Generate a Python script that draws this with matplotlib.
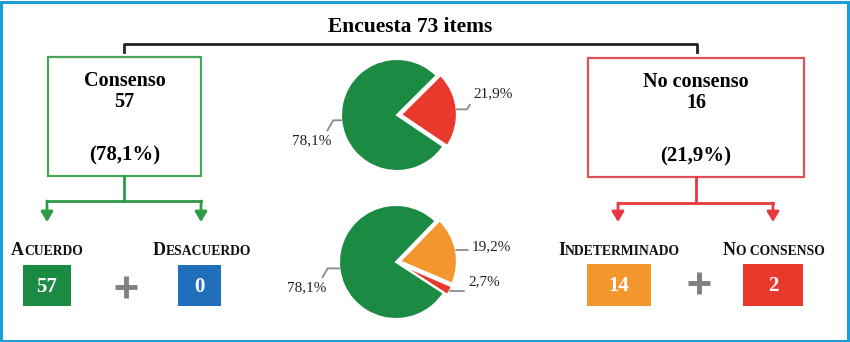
import numpy as np
import matplotlib
matplotlib.use("Agg")
import matplotlib.pyplot as plt
from matplotlib.patches import Rectangle
from matplotlib.font_manager import FontProperties

# datos de la encuesta
total_items = 73
grupos = ["Consenso", "No consenso"]
grupos_n = [57, 16]
grupos_pct = ["78,1%", "21,9%"]

sub_labels = ["Acuerdo", "Desacuerdo", "Indeterminado", "No consenso"]
sub_n = [57, 0, 14, 2]

pie1_vals = [21.9, 78.1]
pie1_labels = ["21,9%", "78,1%"]
pie2_vals = [2.7, 19.2, 78.1]
pie2_labels = ["2,7%", "19,2%", "78,1%"]

VERDE = "#1b8a42"
ROJO = "#e8392c"
NARANJA = "#f3962e"
AZUL = "#1f6fba"
SERIF = "Liberation Serif"

W, H = 850, 342
fig = plt.figure(figsize=(W / 100, H / 100), dpi=100)
ax = fig.add_axes([0, 0, 1, 1])
ax.set_xlim(0, W)
ax.set_ylim(H, 0)
ax.axis("off")
renderer = fig.canvas.get_renderer()

# marco azul
ax.add_patch(Rectangle((1.5, 1.5), W - 3, H - 3, fill=False, ec="#1b9ed8", lw=2.2))

# titulo y llave
ax.text(410, 27, f"Encuesta {total_items} items", ha="center", va="center",
        family=SERIF, weight="bold", fontsize=15.5)
ax.plot([124, 124, 697, 697], [52, 44, 44, 52], color="#222222", lw=2)

# cajas principales
cajas = [(48, 57, 153, 119, "#4aa55a"), (588, 58, 216, 119, "#e25056")]
for (x, y, w, h, c), nombre, n, pct in zip(cajas, grupos, grupos_n, grupos_pct):
    ax.add_patch(Rectangle((x, y), w, h, fill=False, ec=c, lw=1.6))
    cx = x + w / 2
    ax.text(cx, y + 29, nombre, ha="center", va="baseline", family=SERIF, weight="bold", fontsize=14.5)
    ax.text(cx, y + 50, str(n), ha="center", va="baseline", family=SERIF, weight="bold", fontsize=14.5)
    ax.text(cx, y + 98, f"({pct})", ha="center", va="center", family=SERIF, weight="bold", fontsize=15)

# conectores con flechas
def rama(xc, y0, ymid, xl, xr, yend, color):
    ax.plot([xc, xc], [y0, ymid], color=color, lw=2)
    ax.plot([xl, xr], [ymid, ymid], color=color, lw=2)
    for xx in (xl, xr):
        ax.annotate("", xy=(xx, yend), xytext=(xx, ymid),
                    arrowprops=dict(arrowstyle="-|>,head_length=0.5,head_width=0.3",
                                    color=color, lw=2, mutation_scale=12,
                                    shrinkA=0, shrinkB=0))

rama(124, 176, 201, 47, 201, 222, "#2e9a46")
rama(696, 177, 203, 618, 773, 222, "#e8393f")

# etiquetas en versalitas
def versalitas(xc, y, palabra, big=13, small=9.8):
    primera, resto = palabra[0].upper(), palabra[1:].upper()
    fb = FontProperties(family=SERIF, weight="bold", size=big)
    fs = FontProperties(family=SERIF, weight="bold", size=small)
    w1 = renderer.get_text_width_height_descent(primera, fb, ismath=False)[0]
    w2 = renderer.get_text_width_height_descent(resto, fs, ismath=False)[0]
    x0 = xc - (w1 + w2) / 2
    ax.text(x0, y, primera, ha="left", va="baseline", fontproperties=fb, color="#111111")
    ax.text(x0 + w1, y, resto, ha="left", va="baseline", fontproperties=fs, color="#111111")

etiq_x = [47, 202, 619, 774]
for xc, lab in zip(etiq_x, sub_labels):
    versalitas(xc, 255, lab)

# cajas con numeros
cajas_sub = [(23, 265, 48, 41, VERDE), (178, 265, 43, 41, AZUL),
             (587, 264, 64, 42, NARANJA), (743, 264, 60, 42, ROJO)]
for (x, y, w, h, c), n in zip(cajas_sub, sub_n):
    ax.add_patch(Rectangle((x, y), w, h, color=c, lw=0))
    ax.text(x + w / 2, y + h / 2 + 1, str(n), ha="center", va="center", color="white",
            family=SERIF, weight="bold", fontsize=15)

# signos mas
for px, py in [(126, 287), (699, 283)]:
    ax.plot([px - 11, px + 11], [py, py], color="#808080", lw=3.5, solid_capstyle="butt")
    ax.plot([px, px], [py - 11, py + 11], color="#808080", lw=3.5, solid_capstyle="butt")

# tartas
def tarta(cx, cy, r, vals, colores, etiquetas, start, explode, pos_txt, L=1.8):
    pa = fig.add_axes([(cx - L * r) / W, 1 - (cy + L * r) / H, 2 * L * r / W, 2 * L * r / H])
    wedges, _ = pa.pie(vals, colors=colores, startangle=start, explode=explode,
                       counterclock=True, radius=1,
                       wedgeprops=dict(edgecolor="white", linewidth=1.5))
    pa.set_xlim(-L, L)
    pa.set_ylim(-L, L)
    pa.axis("off")
    for wdg, lab, ex, (tx, ty, ha) in zip(wedges, etiquetas, explode, pos_txt):
        mid = np.deg2rad((wdg.theta1 + wdg.theta2) / 2)
        xy = ((1 + ex) * np.cos(mid), (1 + ex) * np.sin(mid))
        xt, yt = (tx - cx) / r, -(ty - cy) / r
        pa.annotate(lab, xy=xy, xytext=(xt, yt), ha=ha, va="center",
                    family=SERIF, fontsize=11, color="#222222", annotation_clip=False,
                    arrowprops=dict(arrowstyle="-", color="#8c8c8c", lw=1.3,
                                    shrinkA=1, shrinkB=0,
                                    relpos=(0, 0.1) if ha == "left" else (0.85, 1.0),
                                    connectionstyle="angle,angleA=60,angleB=0,rad=0"))

tarta(397, 115, 56, pie1_vals, [ROJO, VERDE], pie1_labels, -34, [0.07, 0],
      [(473, 94, "left"), (331, 141, "right")])
tarta(396, 262, 57, pie2_vals, [ROJO, NARANJA, VERDE], pie2_labels, -33, [0.07, 0.07, 0],
      [(468, 282, "left"), (472, 247, "left"), (326, 288, "right")])

fig.savefig("out.png", dpi=100)
